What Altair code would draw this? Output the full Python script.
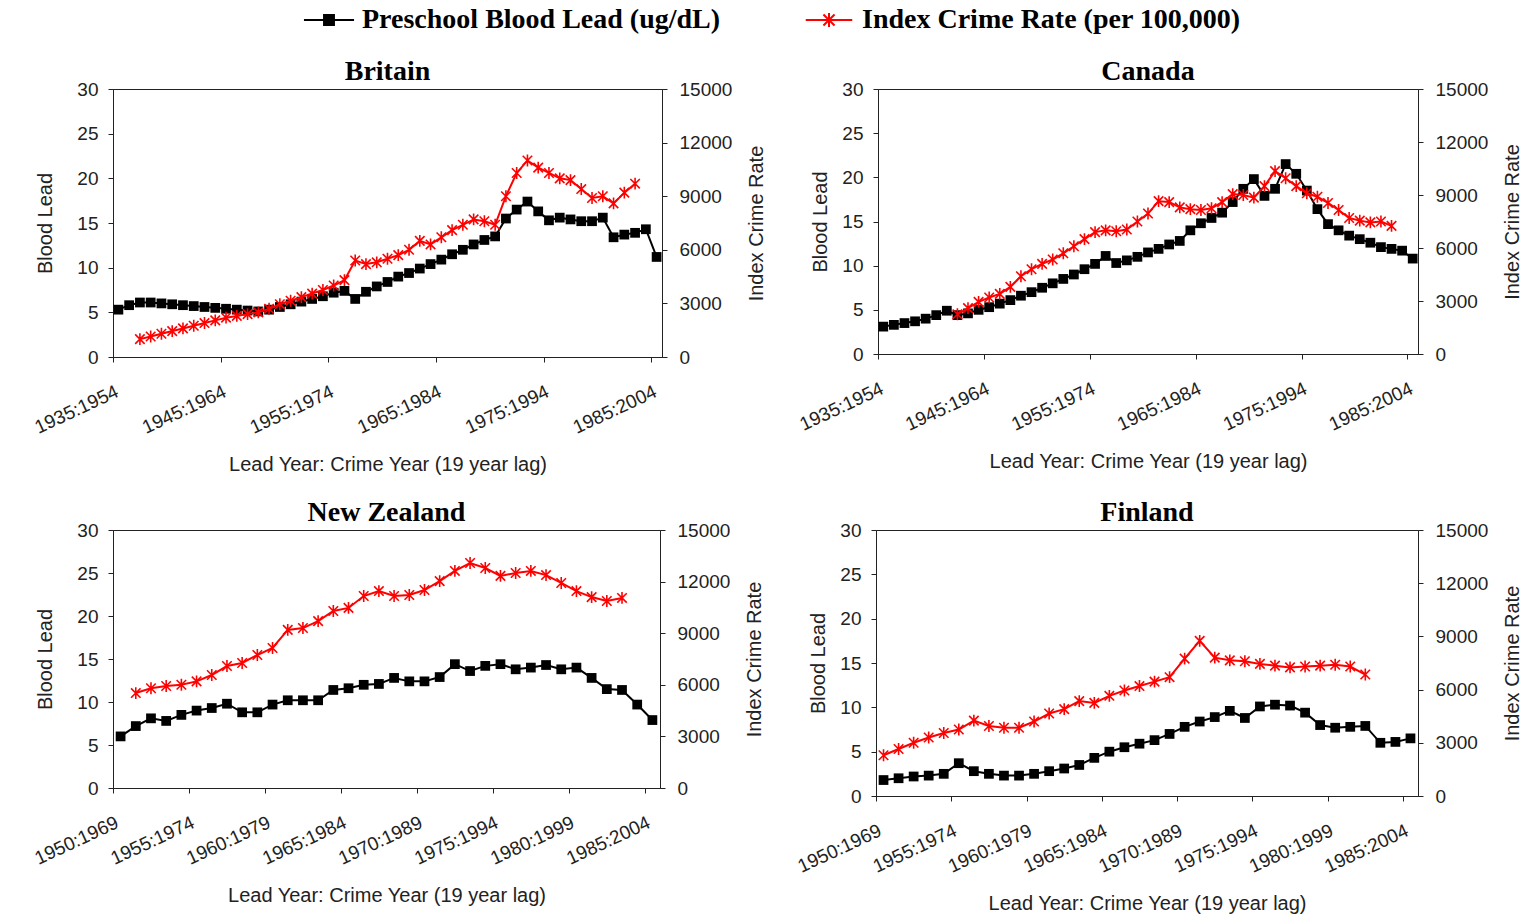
import altair as alt
import pandas as pd

# ---------------- data ----------------
series_names = ["Preschool Blood Lead (ug/dL)", "Index Crime Rate (per 100,000)"]

brit_lead_years = list(range(1935, 1986))
brit_lead = [5.3, 5.8, 6.1, 6.1, 6.0, 5.9, 5.8, 5.7, 5.6, 5.5,
             5.4, 5.3, 5.2, 5.1, 5.3, 5.6, 5.9, 6.2, 6.5, 6.8,
             7.2, 7.4, 6.5, 7.3, 7.9, 8.4, 9.0, 9.4, 9.9, 10.4,
             10.9, 11.5, 12.0, 12.6, 13.1, 13.5, 15.5, 16.5, 17.4, 16.3,
             15.3, 15.6, 15.4, 15.2, 15.2, 15.6, 13.4, 13.7, 13.9, 14.3,
             11.2]
brit_crime_years = list(range(1937, 1984))
brit_crime = [1000, 1150, 1300, 1450, 1600, 1750, 1900, 2050, 2200, 2300,
              2400, 2500, 2700, 2950, 3150, 3350, 3550, 3750, 4000, 4300,
              5400, 5200, 5300, 5500, 5700, 6000, 6500, 6300, 6700, 7100,
              7400, 7700, 7600, 7400, 9000, 10300, 11000, 10600, 10300, 10000,
              9900, 9400, 8900, 9000, 8600, 9200, 9700]

can_lead_years = list(range(1935, 1986))
can_lead = [3.1, 3.3, 3.5, 3.7, 4.0, 4.4, 4.9, 4.4, 4.6, 5.0,
            5.3, 5.7, 6.1, 6.6, 7.0, 7.5, 8.0, 8.5, 9.0, 9.6,
            10.2, 11.1, 10.3, 10.6, 11.0, 11.5, 11.9, 12.4, 12.8, 14.0,
            14.8, 15.4, 16.0, 17.2, 18.7, 19.8, 17.9, 18.7, 21.5, 20.4,
            18.5, 16.4, 14.7, 14.0, 13.4, 13.0, 12.6, 12.1, 11.9, 11.7,
            10.8]
can_crime_years = list(range(1942, 1984))
can_crime = [2250, 2600, 2950, 3200, 3400, 3800, 4400, 4800, 5100, 5350,
             5700, 6100, 6500, 6900, 7000, 6950, 7050, 7500, 7950, 8650,
             8600, 8300, 8200, 8150, 8250, 8600, 9050, 9000, 8850, 9500,
             10350, 9950, 9500, 9100, 8900, 8550, 8150, 7700, 7550, 7450,
             7500, 7250]

nz_lead_years = list(range(1950, 1986))
nz_lead = [6.0, 7.2, 8.1, 7.8, 8.5, 9.0, 9.3, 9.8, 8.8, 8.8,
           9.7, 10.2, 10.2, 10.2, 11.4, 11.6, 12.0, 12.1, 12.8, 12.4,
           12.4, 12.9, 14.4, 13.6, 14.2, 14.4, 13.8, 14.0, 14.3, 13.8,
           14.0, 12.8, 11.5, 11.4, 9.7, 7.9]
nz_crime_years = list(range(1951, 1984))
nz_crime = [5520, 5800, 5930, 6000, 6200, 6570, 7090, 7270, 7730, 8140,
            9190, 9300, 9700, 10290, 10470, 11160, 11450, 11160, 11220, 11510,
            12030, 12620, 13080, 12790, 12330, 12500, 12620, 12380, 11920, 11450,
            11100, 10870, 11050]

fin_lead_years = list(range(1950, 1986))
fin_lead = [1.8, 2.0, 2.2, 2.3, 2.5, 3.7, 2.8, 2.5, 2.3, 2.3,
            2.5, 2.8, 3.1, 3.5, 4.3, 5.0, 5.5, 5.9, 6.3, 7.0,
            7.8, 8.4, 8.9, 9.6, 8.8, 10.1, 10.3, 10.2, 9.4, 8.0,
            7.7, 7.8, 7.9, 6.0, 6.1, 6.5]
fin_crime_years = list(range(1950, 1983))
fin_crime = [2300, 2650, 3000, 3300, 3550, 3750, 4250, 3950, 3850, 3850,
             4200, 4650, 4900, 5350, 5250, 5650, 5950, 6200, 6450, 6700,
             7750, 8750, 7800, 7650, 7600, 7450, 7350, 7250, 7300, 7350,
             7400, 7300, 6850]

lead_ticks = [0, 5, 10, 15, 20, 25, 30]
crime_ticks = [0, 3000, 6000, 9000, 12000, 15000]
ticks_10 = [1934.5, 1944.5, 1954.5, 1964.5, 1974.5, 1984.5]
ticks_5 = [1949.5, 1954.5, 1959.5, 1964.5, 1969.5, 1974.5, 1979.5, 1984.5]

# ---------------- styling ----------------
SANS = "Liberation Sans"
SERIF = "Liberation Serif"
TXT = "#222222"
ASTER = "M-1,-1L1,1M-1,1L1,-1M0,-1.25L0,1.25"
LEG_SQ = "M-1.67,0L1.67,0M-0.33,-0.33L0.33,-0.33L0.33,0.33L-0.33,0.33Z"
LEG_AS = "M-1.55,0L1.55,0M-0.37,-0.37L0.37,0.37M-0.37,0.37L0.37,-0.37M0,-0.47L0,0.47"


def panel(name, ly, lv, cy, cv, domain, ticks, w, h, left_tp, with_legend=False):
    lead_df = pd.DataFrame({"year": ly, "lead": lv})
    crime_df = pd.DataFrame({"year": cy, "crime": cv})
    x = alt.X("year:Q",
              scale=alt.Scale(domain=domain, nice=False, zero=False),
              axis=alt.Axis(values=ticks,
                            labelExpr="(datum.value + 0.5) + ':' + (datum.value + 19.5)",
                            labelAngle=335, labelAlign="right", labelBaseline="top",
                            labelPadding=20, tickSize=5, labelOverlap=False,
                            title="Lead Year: Crime Year (19 year lag)",
                            titlePadding=17))
    y_lead = alt.Y("lead:Q", scale=alt.Scale(domain=[0, 30], nice=False),
                   axis=alt.Axis(orient="left", values=lead_ticks, title="Blood Lead",
                                 tickSize=5, labelPadding=10, titlePadding=left_tp))
    y_crime = alt.Y("crime:Q", scale=alt.Scale(domain=[0, 15000], nice=False),
                    axis=alt.Axis(orient="right", values=crime_ticks, format="d",
                                  title="Index Crime Rate", titleAngle=270,
                                  titleBaseline="top",
                                  tickSize=5, labelPadding=12, titlePadding=15))
    lb = alt.Chart(lead_df).encode(x=x, y=y_lead)
    lead_layers = [lb.mark_line(color="black", strokeWidth=2),
                   lb.mark_point(shape="square", filled=True, color="black",
                                 size=95, opacity=1)]
    if with_legend:
        leg = alt.Legend(title=None, orient="none", legendX=200, legendY=-85,
                         direction="horizontal", symbolSize=900, symbolStrokeWidth=2,
                         symbolOpacity=1, labelFont=SERIF, labelFontSize=28,
                         labelFontWeight="bold", labelColor="black", labelLimit=0,
                         columnPadding=80, labelOffset=17)
        ldf = pd.DataFrame({"series": series_names, "year": [1960, 1960],
                            "lead": [10, 10]})
        lead_layers.append(
            alt.Chart(ldf).mark_point(filled=True, opacity=0).encode(
                x=x, y=y_lead,
                fill=alt.Fill("series:N", scale=alt.Scale(domain=series_names,
                                                          range=["black", "red"]),
                              legend=leg, sort=series_names),
                stroke=alt.Stroke("series:N", scale=alt.Scale(domain=series_names,
                                                              range=["black", "red"]),
                                  legend=leg, sort=series_names),
                shape=alt.Shape("series:N", scale=alt.Scale(domain=series_names,
                                                            range=[LEG_SQ, LEG_AS]),
                                legend=leg, sort=series_names),
            ))
    cb = alt.Chart(crime_df).encode(x=x, y=y_crime)
    crime_layer = alt.layer(
        cb.mark_line(color="red", strokeWidth=2),
        cb.mark_point(shape=ASTER, filled=False, color="red", size=90,
                      strokeWidth=1.6, opacity=1),
    )
    return alt.layer(alt.layer(*lead_layers), crime_layer).resolve_scale(
        y="independent").properties(
        width=w, height=h,
        title=alt.TitleParams(name, font=SERIF, fontSize=28, fontWeight="bold",
                              color="black", anchor="middle", offset=-6))


britain = panel("Britain", brit_lead_years, brit_lead, brit_crime_years, brit_crime,
                [1934.5, 1985.5], ticks_10, 549, 268, 21, with_legend=True)
canada = panel("Canada", can_lead_years, can_lead, can_crime_years, can_crime,
               [1934.5, 1985.5], ticks_10, 540, 265, 11)
nz = panel("New Zealand", nz_lead_years, nz_lead, nz_crime_years, nz_crime,
           [1949.5, 1985.5], ticks_5, 547, 258, 21)
fin = panel("Finland", fin_lead_years, fin_lead, fin_crime_years, fin_crime,
            [1949.5, 1985.5], ticks_5, 542, 266, 11)

chart = alt.vconcat(
    alt.hconcat(britain, canada, spacing=28),
    alt.hconcat(nz, fin, spacing=28),
    spacing=23,
).properties(
    padding={"left": 31, "top": 4, "right": 2, "bottom": 2},
    background="white",
).configure_view(
    stroke="#222222", strokeWidth=1
).configure_axis(
    labelFont=SANS, labelFontSize=19, labelColor=TXT,
    titleFont=SANS, titleFontSize=20, titleFontWeight="normal", titleColor=TXT,
    domainColor="#222222", tickColor="#222222", grid=False,
)

chart.save("out.html", embed_options={"renderer": "svg", "actions": False})
